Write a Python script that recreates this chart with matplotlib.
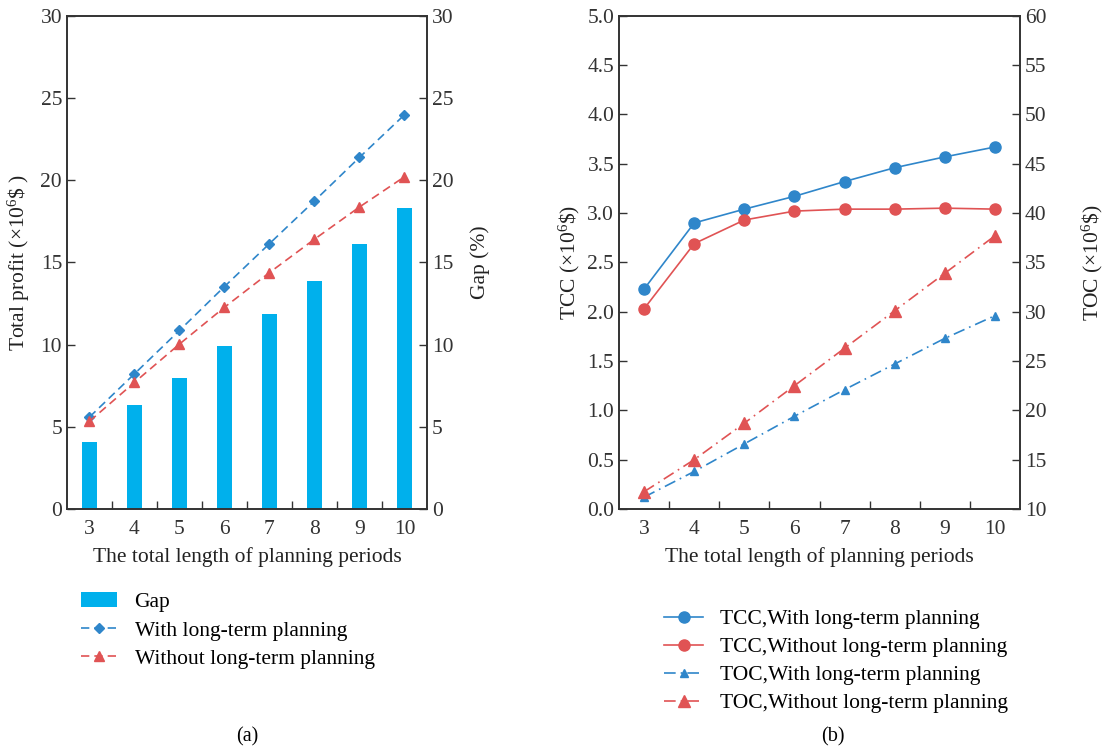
import matplotlib
matplotlib.use("Agg")
import matplotlib.pyplot as plt
import numpy as np

plt.rcParams['font.family'] = ['Liberation Serif', 'DejaVu Serif']
plt.rcParams['mathtext.fontset'] = 'custom'
plt.rcParams['mathtext.rm'] = 'Liberation Serif'
plt.rcParams['mathtext.it'] = 'Liberation Serif:italic'

periods = [3, 4, 5, 6, 7, 8, 9, 10]
gap = [4.09, 6.34, 7.98, 9.93, 11.88, 13.88, 16.13, 18.32]
profit_with = [5.59, 8.22, 10.86, 13.53, 16.14, 18.74, 21.39, 23.98]
profit_without = [5.33, 7.70, 10.03, 12.27, 14.38, 16.41, 18.37, 20.21]

tcc_with = [2.23, 2.90, 3.04, 3.17, 3.32, 3.46, 3.57, 3.67]
tcc_without = [2.03, 2.69, 2.93, 3.02, 3.04, 3.04, 3.05, 3.04]
toc_with = [11.2, 13.8, 16.6, 19.4, 22.1, 24.7, 27.3, 29.6]
toc_without = [11.75, 15.0, 18.7, 22.5, 26.3, 30.1, 33.9, 37.7]

bar_c = '#00B0EC'
blue = '#2F86CA'
red = '#E05354'
fs = 15.5

fig = plt.figure(figsize=(11.16, 7.54), dpi=100)
ax1 = fig.add_axes([0.060, 0.325, 0.3226, 0.654])
ax3 = fig.add_axes([0.5547, 0.325, 0.3593, 0.654])

x = np.arange(len(periods))

def style(ax):
    ax.tick_params(direction='in', length=6, width=1, labelsize=fs, colors='#333333')
    for s in ax.spines.values():
        s.set_linewidth(1.2)
        s.set_color('#333333')

# (a)
ax2 = ax1.twinx()
h_bar = ax1.bar(x, gap, width=0.33, color=bar_c, label='Gap', zorder=1)
h_w, = ax2.plot(x, profit_with, '--', color=blue, marker='D', markersize=5, lw=1.2,
                dashes=(5, 3), label='With long-term planning')
h_wo, = ax2.plot(x, profit_without, '--', color=red, marker='^', markersize=7, lw=1.2,
                 dashes=(5, 3), label='Without long-term planning')
ax1.set_ylim(0, 30)
ax2.set_ylim(0, 30)
ax1.set_xlim(-0.5, len(periods) - 0.5)
ax1.set_yticks(range(0, 31, 5))
ax2.set_yticks(range(0, 31, 5))
ax1.set_xticks(x)
ax1.set_xticklabels(periods)
ax1.set_xticks(x[:-1] + 0.5, minor=True)
style(ax1)
style(ax2)
ax1.tick_params(axis='x', which='major', length=0, pad=8)
ax1.tick_params(axis='x', which='minor', direction='in', length=6, width=1, colors='#333333')
ax1.set_ylabel('Total profit (×10$^{6}$\\$ )', fontsize=fs, color='#222222', labelpad=6)
ax2.set_ylabel('Gap (%)', fontsize=fs, color='#222222', labelpad=12)
ax1.set_xlabel('The total length of planning periods', fontsize=fs, color='#222222', labelpad=6)
fig.legend([h_bar, h_w, h_wo], ['Gap', 'With long-term planning', 'Without long-term planning'],
           loc='upper left', bbox_to_anchor=(0.055, 0.24), frameon=False, fontsize=fs,
           handlelength=1.7, labelspacing=0.38, handletextpad=0.8)

# (b)
ax4 = ax3.twinx()
h1, = ax3.plot(x, tcc_with, '-', color=blue, marker='o', markersize=8, lw=1.2,
               label='TCC,With long-term planning')
h2, = ax3.plot(x, tcc_without, '-', color=red, marker='o', markersize=8, lw=1.2,
               label='TCC,Without long-term planning')
h3, = ax4.plot(x, toc_with, '-.', color=blue, marker='^', markersize=6, lw=1.2,
               dashes=(7, 3, 1, 3), label='TOC,With long-term planning')
h4, = ax4.plot(x, toc_without, '-.', color=red, marker='^', markersize=8, lw=1.2,
               dashes=(7, 3, 1, 3), label='TOC,Without long-term planning')
ax3.set_ylim(0, 5)
ax4.set_ylim(10, 60)
ax3.set_yticks(np.arange(0, 5.01, 0.5))
ax3.set_yticklabels(['%.1f' % v for v in np.arange(0, 5.01, 0.5)])
ax4.set_yticks(range(10, 61, 5))
ax3.set_xlim(-0.5, len(periods) - 0.5)
ax3.set_xticks(x)
ax3.set_xticklabels(periods)
ax3.set_xticks(x[:-1] + 0.5, minor=True)
style(ax3)
style(ax4)
ax3.tick_params(axis='x', which='major', length=0, pad=8)
ax3.tick_params(axis='x', which='minor', direction='in', length=6, width=1, colors='#333333')
ax3.set_ylabel('TCC (×10$^{6}$\\$)', fontsize=fs, color='#222222', labelpad=4)
ax4.set_ylabel('TOC (×10$^{6}$\\$)', fontsize=fs, color='#222222', labelpad=24)
ax3.set_xlabel('The total length of planning periods', fontsize=fs, color='#222222', labelpad=6)
fig.legend([h1, h2, h3, h4], [h.get_label() for h in (h1, h2, h3, h4)],
           loc='upper left', bbox_to_anchor=(0.578, 0.218), frameon=False, fontsize=fs,
           handlelength=1.8, labelspacing=0.37, handletextpad=0.8)

fig.text(0.2215, 0.017, '(a)', ha='center', fontsize=fs - 1)
fig.text(0.7465, 0.017, '(b)', ha='center', fontsize=fs - 1)

fig.savefig('out.png', dpi=100)
